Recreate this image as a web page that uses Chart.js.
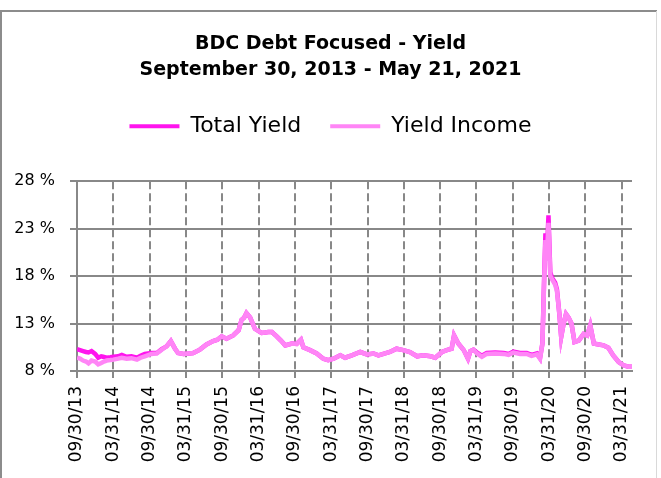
<!DOCTYPE html>
<html>
<head>
<meta charset="utf-8">
<script src="https://cdn.jsdelivr.net/npm/chart.js@4.4.1/dist/chart.umd.min.js"></script>
<style>
  html, body { margin: 0; padding: 0; background: #ffffff; }
  #wrap { position: relative; width: 661px; height: 478px; }
</style>
</head>
<body>
<div id="wrap"><canvas id="c" width="661" height="478"></canvas></div>
<script>
// Months elapsed since 09/30/2013
const months = [0,0.5,1,1.5,1.9,2.4,3,3.5,4,4.3,4.9,5.5,6,6.8,7.4,8.2,9,9.9,10.5,11.2,12.3,13.2,14,14.8,15.5,16.2,16.7,17.6,18.5,19.2,20.3,21.4,22.5,23.2,23.9,24.7,25.8,26.7,27.2,27.6,28,28.6,29.4,30.5,31.1,31.6,32.2,33,33.7,34.4,35.5,36.3,37,37.4,38.5,39.6,40.7,41.5,42.4,43.5,44.3,45.4,46.8,47.9,49,49.8,50.9,51.7,52.8,53.9,55,56.2,57.2,58.4,59.2,60.3,61.1,61.9,62.3,63,63.9,64.6,65,65.5,66.1,66.9,67.7,69.1,70.5,71.3,72.1,73.2,74.3,75.1,76,76.5,76.9,77.2,77.4,77.6,77.9,78.2,78.5,79,79.3,79.7,80,80.4,80.8,81.2,81.7,82.2,82.9,83.7,84.3,84.8,85.4,86.2,87,87.8,88.6,89.5,90.3,91.1,91.7];
const totalYield = [10.3,10.2,10.1,10.0,9.95,10.1,9.8,9.4,9.55,9.5,9.4,9.45,9.5,9.55,9.7,9.5,9.55,9.4,9.6,9.8,9.9,9.9,10.3,10.6,11.15,10.35,9.9,9.8,9.85,9.9,10.25,10.8,11.15,11.3,11.65,11.4,11.75,12.3,13.4,13.6,14.1,13.65,12.45,12.0,12.05,12.1,12.1,11.65,11.2,10.7,10.9,10.85,11.3,10.5,10.2,9.85,9.3,9.15,9.3,9.65,9.4,9.65,10.0,9.75,9.85,9.65,9.85,10.0,10.35,10.2,10.0,9.55,9.65,9.55,9.4,10.0,10.2,10.35,11.75,10.9,10.2,9.3,10.1,10.25,9.95,9.6,9.9,9.95,9.9,9.8,10.05,9.9,9.9,9.7,9.85,9.35,10.9,18.2,22.5,19.9,24.4,18.4,17.8,17.3,16.6,14.0,11.6,13.0,14.0,13.65,13.0,11.05,11.2,11.9,11.75,12.8,10.9,10.8,10.7,10.45,9.65,8.95,8.6,8.45,8.45];
const yieldIncome = [9.4,9.3,9.1,9.0,8.8,9.1,9.0,8.7,8.85,8.95,9.1,9.15,9.2,9.3,9.4,9.3,9.35,9.2,9.4,9.55,9.8,9.85,10.25,10.6,11.15,10.35,9.9,9.8,9.85,9.9,10.25,10.8,11.15,11.3,11.65,11.4,11.75,12.3,13.4,13.6,14.1,13.65,12.45,12.0,12.05,12.1,12.1,11.65,11.2,10.7,10.9,10.85,11.3,10.5,10.2,9.85,9.3,9.15,9.3,9.65,9.4,9.65,10.0,9.75,9.85,9.65,9.85,10.0,10.35,10.2,10.0,9.55,9.65,9.55,9.4,10.0,10.2,10.35,11.75,10.9,10.2,9.3,10.1,10.25,9.85,9.5,9.8,9.85,9.8,9.7,9.95,9.8,9.8,9.6,9.75,9.3,10.9,17.8,21.8,19.6,23.6,18.0,17.65,17.1,16.4,14.0,11.6,13.0,14.0,13.65,13.0,11.05,11.2,11.9,11.75,12.8,10.9,10.8,10.7,10.45,9.65,8.95,8.6,8.45,8.45];

const xTickMonths = [0,6,12,18,24,30,36,42,48,54,60,66,72,78,84,90];
const xTickLabels = ['09/30/13','03/31/14','09/30/14','03/31/15','09/30/15','03/31/16','09/30/16','03/31/17','09/30/17','03/31/18','09/30/18','03/31/19','09/30/19','03/31/20','09/30/20','03/31/21'];
const yTicks = [8,13,18,23,28];

const seriesNames = ['Total Yield','Yield Income'];
const seriesColors = ['#ff14ee','#ff85f6'];

const toPts = (ys) => months.map((m, i) => ({x: m, y: ys[i]}));

const framePlugin = {
  id: 'frame',
  beforeDraw(chart) {
    const ctx = chart.ctx;
    ctx.save();
    ctx.fillStyle = '#ffffff';
    ctx.fillRect(0, 0, chart.width, chart.height);
    ctx.strokeStyle = '#8c8c8c';
    ctx.lineWidth = 2;
    ctx.beginPath();
    ctx.moveTo(0, 11); ctx.lineTo(657, 11);
    ctx.moveTo(1, 11); ctx.lineTo(1, 478);
    ctx.stroke();
    ctx.strokeStyle = '#d9d9d9';
    ctx.lineWidth = 1;
    ctx.beginPath();
    ctx.moveTo(656.5, 11); ctx.lineTo(656.5, 478);
    ctx.stroke();
    ctx.restore();
  }
};

const FONT = "'DejaVu Sans', sans-serif";

new Chart(document.getElementById('c'), {
  type: 'line',
  data: {
    datasets: [
      { label: seriesNames[0], data: toPts(totalYield), borderColor: seriesColors[0], backgroundColor: seriesColors[0], borderWidth: 4.5, pointRadius: 0, tension: 0, order: 1 },
      { label: seriesNames[1], data: toPts(yieldIncome), borderColor: seriesColors[1], backgroundColor: seriesColors[1], borderWidth: 4.5, pointRadius: 0, tension: 0, order: 0 }
    ]
  },
  options: {
    responsive: false,
    animation: false,
    devicePixelRatio: 1,
    layout: { padding: { left: 0, right: 0, top: 0, bottom: 0 } },
    plugins: {
      tooltip: { enabled: false },
      title: {
        display: true,
        text: ['BDC Debt Focused - Yield', 'September 30, 2013 - May 21, 2021'],
        color: '#000000',
        font: { family: FONT, size: 19, weight: 'bold', lineHeight: 1.32 },
        padding: { top: 32, bottom: 4 }
      },
      subtitle: {
        display: true,
        text: '',
        weight: 500,
        font: { family: FONT, size: 2, lineHeight: 1 },
        padding: { top: 0, bottom: 32 }
      },
      legend: {
        display: true,
        position: 'top',
        labels: {
          color: '#000000',
          font: { family: FONT, size: 22 },
          boxWidth: 50,
          boxHeight: 4,
          padding: 29,
          sort: (a, b) => a.datasetIndex - b.datasetIndex,
          generateLabels: (chart) => chart.data.datasets.map((ds, i) => ({
            text: ds.label, fillStyle: ds.borderColor, strokeStyle: ds.borderColor,
            lineWidth: 0, hidden: false, datasetIndex: i, fontColor: '#000000'
          }))
        }
      }
    },
    scales: {
      x: {
        type: 'linear',
        min: 0,
        max: 91.7,
        afterBuildTicks: (scale) => { scale.ticks = xTickMonths.map(v => ({ value: v })); },
        afterFit: (scale) => { scale.height = 107; },
        ticks: {
          autoSkip: false,
          maxRotation: 90,
          minRotation: 90,
          color: '#000000',
          font: { family: FONT, size: 17 },
          padding: 8,
          callback: (v, i) => xTickLabels[i]
        },
        grid: {
          color: '#888888',
          lineWidth: 2,
          tickLength: 7,
          tickBorderDash: [],
          tickColor: '#888888'
        },
        border: { display: true, color: '#888888', width: 2, dash: [8, 4] }
      },
      y: {
        min: 8,
        max: 28,
        afterBuildTicks: (scale) => { scale.ticks = yTicks.map(v => ({ value: v })); },
        afterFit: (scale) => { scale.width = 77; },
        ticks: {
          color: '#000000',
          font: { family: FONT, size: 16 },
          padding: 15,
          callback: (v) => v + ' %'
        },
        grid: {
          color: '#888888',
          lineWidth: 2,
          tickLength: 7,
          tickColor: '#888888'
        },
        border: { display: true, color: '#888888', width: 2 }
      },
      yR: {
        position: 'right',
        display: true,
        min: 8,
        max: 28,
        afterFit: (scale) => { scale.width = 29; },
        ticks: { display: false },
        grid: { display: false, drawTicks: false },
        border: { display: false }
      }
    }
  },
  plugins: [framePlugin]
});
</script>
</body>
</html>
